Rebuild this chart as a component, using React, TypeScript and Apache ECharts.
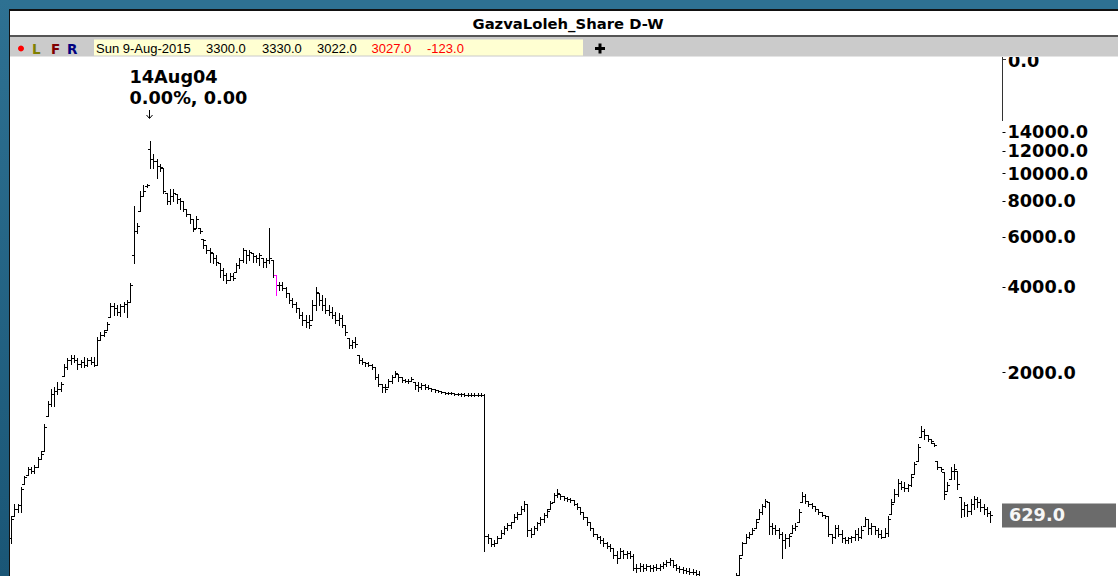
import React, { useEffect, useRef } from 'react';
import * as echarts from 'echarts';

// ---------- data ----------
const TITLE = 'GazvaLoleh_Share D-W';
const INFO_DATE = 'Sun 9-Aug-2015';
const INFO_VALUES = ['3300.0', '3330.0', '3022.0', '3027.0', '-123.0'];
const INFO_RED = [false, false, false, true, true];
const PRICE_TICKS = [2000, 4000, 6000, 8000, 10000, 12000, 14000];
const TOP_AXIS_LABEL = '0.0';
const PEAK_NOTE = '0.00%, 0.00';
const Y_MIN = 385;
const Y_MAX = 25736;
const PEAK_INDEX = 42;
const HIGHLIGHT_INDEX = 80;
const EMPTY_SLOTS = 3;

// weekly bars: [open, high, low, close]
const BARS: number[][] = [
  [522, 628, 501, 613], [628, 692, 628, 665], [665, 692, 645, 686], [686, 793, 649, 781],
  [812, 866, 812, 859], [873, 932, 873, 917], [917, 932, 888, 902], [902, 947, 888, 932],
  [932, 1010, 932, 994], [994, 1060, 994, 1035], [1060, 1315, 1060, 1283], [1402, 1584, 1402, 1545],
  [1545, 1745, 1520, 1680], [1680, 1776, 1520, 1717], [1717, 1845, 1680, 1745], [1745, 1845, 1717, 1820],
  [1938, 2135, 1938, 2084], [2084, 2256, 2050, 2220], [2220, 2310, 2135, 2256], [2256, 2310, 2184, 2220],
  [2220, 2256, 2050, 2135], [2135, 2220, 2084, 2184], [2184, 2273, 2084, 2118], [2118, 2256, 2101, 2220],
  [2220, 2273, 2135, 2184], [2184, 2273, 2101, 2118], [2118, 2672, 2118, 2610], [2610, 2785, 2610, 2715],
  [2715, 2830, 2693, 2785], [2830, 3016, 2830, 2969], [3139, 3514, 3139, 3427], [3427, 3514, 3190, 3372],
  [3372, 3455, 3190, 3267], [3267, 3483, 3164, 3427], [3427, 3542, 3267, 3483], [3483, 3600, 3139, 3542],
  [3542, 4124, 3542, 4060], [5165, 7720, 4841, 6310], [6310, 6731, 6209, 6570], [7410, 8710, 7410, 8360],
  [8360, 9132, 8360, 8710], [9060, 9205, 8988, 9132], [12202, 13010, 10480, 11257], [11257, 11722, 10480, 11080],
  [11080, 11257, 9663, 10650], [10650, 10820, 10230, 10565], [10480, 10480, 8571, 8710], [8571, 8571, 7847, 8040],
  [8040, 8849, 7847, 8360], [8360, 8849, 8040, 8571], [8494, 8494, 7911, 8169], [8169, 8226, 7535, 8040],
  [8040, 8040, 7410, 7535], [7535, 7535, 7120, 7232], [7232, 7232, 6731, 6949], [6949, 6949, 6310, 6412],
  [6465, 7120, 6465, 6949], [6465, 6465, 6209, 6310], [5915, 5915, 5461, 5825], [5595, 5595, 5246, 5375],
  [5375, 5461, 4881, 5289], [5246, 5246, 4841, 5041], [5041, 5165, 4765, 4881], [4841, 4841, 4330, 4580],
  [4580, 4651, 4225, 4400], [4400, 4470, 4124, 4225], [4225, 4470, 4225, 4365], [4365, 4470, 4225, 4294],
  [4507, 4841, 4507, 4765], [4765, 5041, 4651, 4960], [4960, 5461, 4881, 5375], [5375, 5375, 4841, 5165],
  [5165, 5375, 4960, 5289], [5246, 5246, 4881, 5124], [5124, 5165, 4881, 5041], [5041, 5246, 4765, 5165],
  [5041, 5041, 4689, 4881], [4881, 5041, 4689, 4960], [4960, 6465, 4841, 5041], [4960, 4960, 4330, 4400],
  [4400, 4400, 3745, 4060], [4060, 4157, 3900, 4060], [4060, 4157, 3900, 3963], [3963, 3994, 3685, 3805],
  [3805, 3805, 3514, 3600], [3600, 3658, 3400, 3483], [3483, 3542, 3267, 3372], [3372, 3372, 3114, 3190],
  [3190, 3267, 2945, 3065], [3065, 3190, 2898, 3016], [3016, 3190, 2874, 2945], [3065, 3600, 3065, 3455],
  [3455, 3994, 3320, 3838], [3805, 3805, 3455, 3600], [3600, 3745, 3320, 3455], [3455, 3658, 3240, 3320],
  [3320, 3455, 3190, 3267], [3267, 3400, 3114, 3190], [3190, 3267, 2991, 3065], [3065, 3240, 2945, 3114],
  [3114, 3190, 2898, 2945], [2945, 2945, 2715, 2785], [2650, 2650, 2445, 2505], [2505, 2610, 2445, 2568],
  [2568, 2672, 2465, 2525], [2310, 2310, 2167, 2220], [2220, 2256, 2135, 2184], [2184, 2184, 2101, 2152],
  [2152, 2184, 2101, 2118], [2118, 2135, 2050, 2084], [2084, 2084, 1890, 1923], [1923, 1970, 1791, 1820],
  [1820, 1820, 1703, 1776], [1776, 1820, 1703, 1745], [1776, 1890, 1776, 1860], [1860, 1954, 1830, 1923],
  [1923, 2017, 1923, 1986], [1970, 1970, 1860, 1923], [1923, 1923, 1845, 1875], [1875, 1890, 1845, 1860],
  [1860, 1890, 1830, 1860], [1860, 1923, 1860, 1890], [1845, 1845, 1745, 1805], [1805, 1845, 1717, 1776],
  [1776, 1830, 1745, 1805], [1805, 1820, 1745, 1776], [1776, 1805, 1745, 1759], [1759, 1759, 1717, 1745],
  [1745, 1745, 1703, 1731], [1731, 1731, 1703, 1717], [1717, 1720, 1693, 1707], [1707, 1707, 1680, 1693],
  [1693, 1707, 1680, 1693], [1693, 1707, 1680, 1690], [1690, 1693, 1667, 1680], [1680, 1693, 1667, 1680],
  [1680, 1693, 1653, 1680], [1680, 1693, 1653, 1667], [1667, 1693, 1653, 1667], [1667, 1693, 1653, 1667],
  [1667, 1693, 1653, 1667], [1667, 1693, 1653, 1665], [1665, 1693, 1653, 1667], [1667, 1680, 470, 534],
  [534, 543, 501, 522], [522, 522, 489, 497], [497, 514, 489, 501], [501, 534, 501, 522],
  [522, 557, 522, 547], [547, 575, 543, 566], [566, 589, 557, 580], [580, 598, 566, 594],
  [598, 638, 598, 623], [623, 648, 613, 638], [638, 676, 638, 665], [665, 708, 654, 692],
  [692, 692, 534, 557], [557, 566, 530, 543], [543, 575, 539, 566], [566, 598, 557, 589],
  [589, 623, 580, 613], [613, 643, 598, 633], [633, 665, 623, 654], [665, 708, 665, 697],
  [703, 756, 703, 744], [744, 781, 732, 756], [750, 750, 720, 738], [738, 738, 714, 726],
  [726, 732, 708, 720], [720, 726, 703, 714], [714, 714, 686, 692], [692, 697, 665, 675],
  [675, 675, 638, 648], [648, 648, 613, 623], [623, 623, 584, 594], [594, 594, 561, 566],
  [566, 566, 534, 543], [543, 543, 518, 530], [530, 534, 501, 514], [514, 522, 489, 501],
  [501, 509, 482, 489], [489, 497, 470, 482], [482, 482, 445, 456], [456, 470, 427, 445],
  [445, 482, 445, 470], [470, 474, 445, 459], [459, 470, 445, 463], [463, 470, 445, 452],
  [452, 459, 403, 410], [410, 424, 397, 410], [410, 427, 400, 417], [417, 424, 400, 410],
  [410, 424, 403, 417], [417, 420, 400, 410], [410, 420, 400, 413], [413, 424, 403, 410],
  [410, 424, 403, 417], [417, 430, 410, 424], [424, 438, 417, 430], [430, 445, 420, 438],
  [438, 438, 413, 420], [420, 424, 403, 410], [410, 417, 397, 407], [407, 413, 394, 403],
  [403, 410, 394, 400], [400, 410, 391, 397], [397, 407, 391, 397], [397, 403, 385, 391],
  [391, 400, 379, 385], [385, 385, 368, 373], [373, 376, 360, 364], [364, 368, 352, 356],
  [356, 360, 346, 350], [350, 353, 342, 345], [345, 354, 343, 350], [350, 358, 348, 356],
  [356, 357, 346, 350], [350, 362, 349, 359], [359, 370, 357, 368], [368, 394, 368, 385],
  [388, 456, 388, 445], [456, 509, 456, 501], [501, 543, 501, 530], [530, 552, 522, 543],
  [543, 566, 539, 557], [566, 613, 566, 598], [613, 665, 613, 648], [648, 692, 638, 681],
  [681, 720, 675, 708], [703, 703, 543, 575], [575, 589, 543, 566], [566, 580, 543, 557],
  [557, 566, 522, 539], [539, 552, 445, 514], [514, 543, 482, 522], [522, 543, 489, 534],
  [547, 580, 547, 566], [566, 589, 557, 575], [598, 665, 598, 648], [703, 762, 703, 738],
  [738, 750, 697, 708], [708, 708, 681, 692], [692, 697, 670, 681], [681, 681, 654, 665],
  [665, 665, 638, 648], [648, 648, 628, 633], [633, 633, 618, 628], [628, 628, 534, 543],
  [543, 543, 501, 530], [530, 580, 522, 566], [566, 580, 534, 543], [543, 557, 509, 522],
  [522, 530, 501, 514], [514, 530, 501, 522], [522, 534, 505, 526], [526, 557, 514, 543],
  [543, 566, 514, 530], [530, 575, 522, 557], [575, 623, 575, 613], [613, 613, 543, 566],
  [566, 589, 543, 575], [575, 575, 543, 557], [557, 566, 530, 543], [543, 557, 522, 530],
  [530, 566, 530, 547], [547, 628, 534, 613], [638, 720, 638, 692], [703, 781, 703, 750],
  [750, 846, 738, 819], [819, 832, 781, 793], [793, 826, 769, 787], [787, 812, 769, 806],
  [806, 880, 799, 859], [880, 970, 880, 955], [978, 1120, 978, 1093], [1186, 1294, 1186, 1245],
  [1245, 1265, 1167, 1205], [1205, 1205, 1148, 1167], [1167, 1167, 1129, 1148], [1129, 1129, 1102, 1111],
  [978, 978, 917, 932], [932, 932, 902, 917], [895, 895, 720, 750], [769, 826, 769, 806],
  [846, 932, 846, 902], [902, 955, 846, 917], [902, 902, 781, 812], [732, 732, 623, 665],
  [665, 703, 628, 686], [686, 692, 628, 654], [654, 720, 638, 692], [692, 738, 665, 720],
  [720, 732, 675, 703], [703, 720, 654, 675], [675, 692, 638, 665], [665, 675, 628, 643],
  [643, 654, 598, 629],
];

const MONTHS = ['Jan', 'Feb', 'Mar', 'Apr', 'May', 'Jun', 'Jul', 'Aug', 'Sep', 'Oct', 'Nov', 'Dec'];
const FIRST_WEEK = Date.UTC(2003, 9, 25);
const CATEGORIES: string[] = Array.from({ length: BARS.length + EMPTY_SLOTS }, (_, i) => {
  const d = new Date(FIRST_WEEK + i * 7 * 86400000);
  return `${d.getUTCDate()}${MONTHS[d.getUTCMonth()]}${String(d.getUTCFullYear()).slice(2)}`;
});

// ---------- styling ----------
const BIG_FONT = 'bold 17.7px "DejaVu Sans"';
const INFO_X = [96, 206, 262, 317, 371.5, 427];

function txt(id: string, text: string, x: number, y: number, font: string, fill: string, align = 'left', z = 60) {
  return {
    type: 'text', id, x, y, z,
    style: { text, font, fill, align, textAlign: align, verticalAlign: 'middle', textVerticalAlign: 'middle' },
  };
}

function buildGraphic(lastY: number, peakX: number, lastText: string, peakLabel: string) {
  const ax = Math.floor(peakX) - 0.5;
  const els: any[] = [
    // top secondary axis stub (partly hidden behind toolbar)
    txt('zeroLabel', TOP_AXIS_LABEL, 1008, 60.5, BIG_FONT, '#000', 'left', 5),
    { type: 'line', id: 'zeroAxis', z: 5, shape: { x1: 1002.5, y1: 57, x2: 1002.5, y2: 121 }, style: { stroke: '#333', lineWidth: 1 } },
    { type: 'line', id: 'zeroTick', z: 5, shape: { x1: 1002.5, y1: 59.5, x2: 1006, y2: 59.5 }, style: { stroke: '#333', lineWidth: 1 } },
    // window frame
    { type: 'rect', id: 'topBand', z: 50, shape: { x: 0, y: 0, width: 1118, height: 9 }, style: { fill: '#2e7192' } },
    {
      type: 'rect', id: 'leftBand', z: 50, shape: { x: 0, y: 0, width: 9, height: 576 },
      style: { fill: new echarts.graphic.LinearGradient(0, 0, 0, 1, [{ offset: 0, color: '#2e7192' }, { offset: 1, color: '#1a5676' }]) },
    },
    { type: 'rect', id: 'frameTop', z: 51, shape: { x: 9, y: 9, width: 1109, height: 2 }, style: { fill: '#111' } },
    { type: 'rect', id: 'frameLeft', z: 51, shape: { x: 9, y: 9, width: 1, height: 567 }, style: { fill: '#111' } },
    { type: 'rect', id: 'titleBar', z: 50, shape: { x: 10, y: 11, width: 1108, height: 24 }, style: { fill: '#ffffff' } },
    { type: 'rect', id: 'titleLine', z: 50, shape: { x: 10, y: 35, width: 1108, height: 2 }, style: { fill: '#555555' } },
    { type: 'rect', id: 'toolbar', z: 50, shape: { x: 10, y: 37, width: 1108, height: 19 }, style: { fill: '#cbcbcb' } },
    { type: 'rect', id: 'toolbarLine', z: 50, shape: { x: 10, y: 56, width: 1108, height: 1 }, style: { fill: '#e4e4e4' } },
    { type: 'rect', id: 'infoBox', z: 51, shape: { x: 94, y: 39.5, width: 489, height: 16 }, style: { fill: '#ffffd2' } },
    { type: 'circle', id: 'redDot', z: 52, shape: { cx: 21, cy: 48.5, r: 3 }, style: { fill: '#ff0000' } },
    txt('btnL', 'L', 32, 48.5, 'bold 13.5px "DejaVu Sans"', '#808000'),
    txt('btnF', 'F', 51, 48.5, 'bold 13.5px "DejaVu Sans"', '#800000'),
    txt('btnR', 'R', 67, 48.5, 'bold 13.5px "DejaVu Sans"', '#000080'),
    { type: 'rect', id: 'plusH', z: 52, shape: { x: 595, y: 47, width: 10, height: 3 }, style: { fill: '#000' } },
    { type: 'rect', id: 'plusV', z: 52, shape: { x: 598.5, y: 43.5, width: 3, height: 10 }, style: { fill: '#000' } },
    txt('title', TITLE, 568, 23, 'bold 14.8px "DejaVu Sans"', '#000', 'center'),
    txt('infoDate', INFO_DATE, INFO_X[0], 48.5, '13px "Liberation Sans"', '#000'),
    ...INFO_VALUES.map((v, i) => txt('info' + i, v, INFO_X[i + 1], 48.5, '13px "Liberation Sans"', INFO_RED[i] ? '#ff0000' : '#000')),
    // peak annotation
    txt('peakDate', peakLabel, ax - 20, 77, BIG_FONT, '#000'),
    txt('peakNote', PEAK_NOTE, ax - 20, 97.5, BIG_FONT, '#000'),
    { type: 'line', id: 'arrowStem', z: 60, shape: { x1: ax, y1: 110, x2: ax, y2: 118 }, style: { stroke: '#000', lineWidth: 1 } },
    { type: 'polyline', id: 'arrowHead', z: 60, shape: { points: [[ax - 3, 115], [ax, 118.5], [ax + 3, 115]] }, style: { stroke: '#000', lineWidth: 1, fill: null } },
    // last price tag
    { type: 'rect', id: 'lastBox', z: 60, shape: { x: 1002, y: lastY - 12, width: 114, height: 24 }, style: { fill: '#6b6b6b' } },
    txt('lastText', lastText, 1009, lastY, BIG_FONT, '#f6f6f6'),
  ];
  return els;
}

function renderOHLC(params: any, api: any) {
  const i = api.value(0);
  const pO = api.coord([i, api.value(1)]);
  const pH = api.coord([i, api.value(2)]);
  const pL = api.coord([i, api.value(3)]);
  const pC = api.coord([i, api.value(4)]);
  const x = Math.floor(pO[0]) + 0.5;
  const color = i === HIGHLIGHT_INDEX ? '#ff00ff' : '#000000';
  const style = { stroke: color, lineWidth: 1, fill: null };
  const yo = Math.round(pO[1]) + 0.5;
  const yc = Math.round(pC[1]) + 0.5;
  return {
    type: 'group',
    children: [
      { type: 'line', shape: { x1: x, y1: Math.round(pH[1]), x2: x, y2: Math.round(pL[1]) + 1 }, style },
      { type: 'line', shape: { x1: x - 2.5, y1: yo, x2: x, y2: yo }, style },
      { type: 'line', shape: { x1: x, y1: yc, x2: x + 2.5, y2: yc }, style },
    ],
  };
}

export default function App() {
  const ref = useRef<HTMLDivElement>(null);
  useEffect(() => {
    const el = ref.current!;
    const chart = echarts.init(el, undefined, { renderer: 'svg' });
    chart.setOption({
      animation: false,
      backgroundColor: '#ffffff',
      grid: { left: 10, right: 115.5, top: 57, bottom: 0, containLabel: false, outerBoundsMode: 'none' },
      xAxis: {
        type: 'category', data: CATEGORIES, boundaryGap: true, show: false,
      },
      yAxis: {
        type: 'log', logBase: 10, position: 'right', min: Y_MIN, max: Y_MAX,
        splitLine: { show: false },
        axisLine: { show: false },
        axisTick: { show: true, inside: false, length: 3, customValues: PRICE_TICKS, lineStyle: { color: '#000', width: 1 } },
        axisLabel: {
          show: true, customValues: PRICE_TICKS, margin: 5,
          formatter: (v: number) => Number(v).toFixed(1),
          color: '#000', fontFamily: 'DejaVu Sans', fontWeight: 'bold', fontSize: 17.7,
        },
      },
      series: [
        {
          type: 'custom', name: 'price', clip: true,
          renderItem: renderOHLC,
          encode: { x: 0, y: [1, 2, 3, 4] },
          data: BARS.map((b, i) => [i, b[0], b[1], b[2], b[3]]),
        },
      ],
    });
    const last = BARS[BARS.length - 1][3];
    const lastY = chart.convertToPixel({ yAxisIndex: 0 }, last) as unknown as number;
    const peakX = chart.convertToPixel({ xAxisIndex: 0 }, PEAK_INDEX) as unknown as number;
    chart.setOption({ graphic: { elements: buildGraphic(lastY, peakX, last.toFixed(1), CATEGORIES[PEAK_INDEX]) } });
    return () => chart.dispose();
  }, []);
  return <div ref={ref} style={{ position: 'fixed', left: 0, top: 0, width: 1118, height: 576 }} />;
}
